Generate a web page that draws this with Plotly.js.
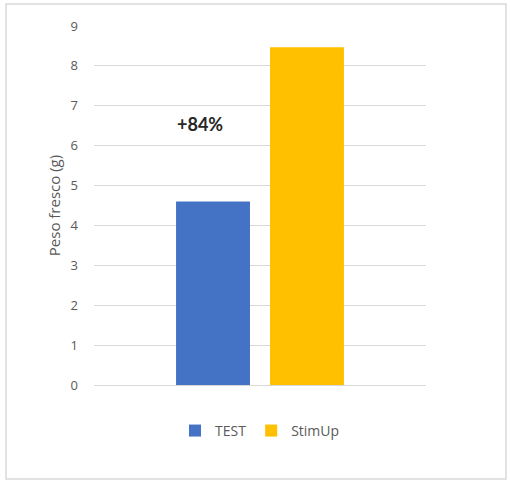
<!DOCTYPE html>
<html>
<head>
<meta charset="utf-8">
<script src="https://cdn.plot.ly/plotly-3.0.1.min.js"></script>
<style>html,body{margin:0;padding:0;background:#fff}#chart{width:510px;height:484px}</style>
</head>
<body>
<div id="chart"></div>
<script>
const seriesNames = ["TEST", "StimUp"];
const seriesValues = [4.6, 8.47];
const seriesColors = ["#4472C4", "#FFC000"];
const category = [""];
const annotationText = "+84%";
const yTitle = "Peso fresco (g)";

const traces = seriesNames.map((n, i) => ({
  type: "bar",
  name: n,
  x: category,
  y: [seriesValues[i]],
  marker: {color: seriesColors[i], line: {width: 0}},
  hoverinfo: "skip"
}));

const layout = {
  width: 510, height: 484,
  margin: {l: 94, r: 84, t: 26, b: 99},
  paper_bgcolor: "#fff", plot_bgcolor: "#fff",
  font: {family: "'Open Sans', sans-serif", color: "#595959", size: 13},
  barmode: "group",
  bargap: 0.434,
  bargroupgap: 0.213,
  showlegend: true,
  legend: {orientation: "h", x: 0.5, xanchor: "center", y: -0.128, yanchor: "middle",
           font: {size: 14, color: "#595959"}, itemwidth: 30, traceorder: "normal"},
  xaxis: {showticklabels: false, showgrid: false, zeroline: false, showline: false, fixedrange: true},
  yaxis: {range: [0, 9], dtick: 1, tick0: 0, gridcolor: "#D9D9D9", gridwidth: 1,
          zeroline: true, zerolinecolor: "#D9D9D9", zerolinewidth: 1, showline: false,
          ticks: "", ticklabelstandoff: 15, tickfont: {size: 13, color: "#595959"},
          title: {text: yTitle, font: {size: 15, color: "#595959"}, standoff: 6}},
  annotations: [{
    text: "<b>" + annotationText + "</b>", xref: "paper", yref: "paper",
    x: (200 - 94) / 332, y: (385 - 124) / 359, xanchor: "center", yanchor: "middle",
    showarrow: false, font: {size: 18, color: "#262626", family: "Lato, 'Open Sans', sans-serif"}
  }],
  shapes: [{
    type: "rect", xref: "paper", yref: "paper",
    x0: (6 - 94) / 332, x1: (506 - 94) / 332, y0: (385 - 479) / 359, y1: (385 - 4) / 359,
    line: {color: "#D9D9D9", width: 1.5}, fillcolor: "rgba(0,0,0,0)", layer: "below"
  }]
};

Plotly.newPlot("chart", traces, layout, {displayModeBar: false, staticPlot: true});
</script>
</body>
</html>
